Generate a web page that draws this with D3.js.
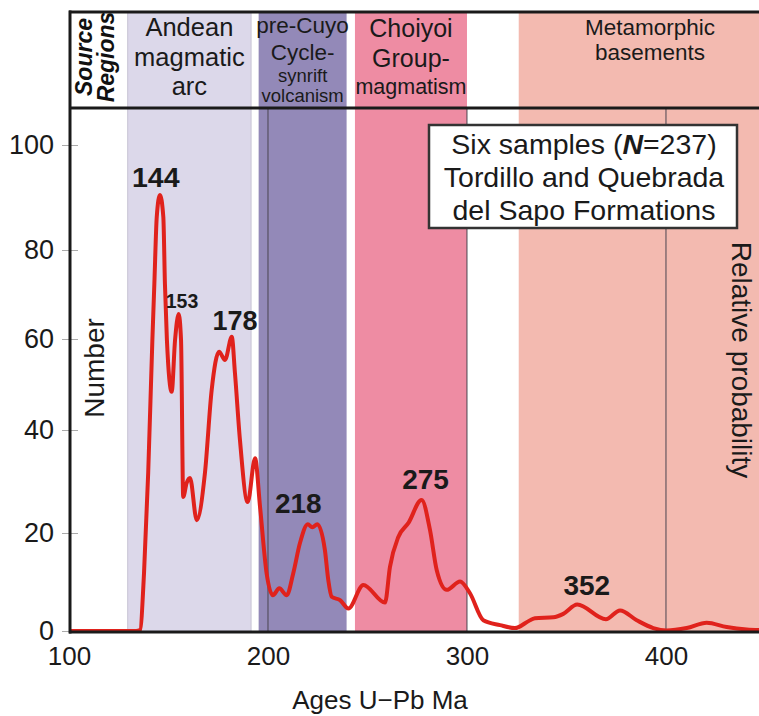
<!DOCTYPE html>
<html>
<head>
<meta charset="utf-8">
<script src="https://cdn.jsdelivr.net/npm/d3@7"></script>
<style>
  html, body { margin: 0; padding: 0; background: #fff; }
  svg { display: block; font-family: "Liberation Sans", Arial, sans-serif; }
</style>
</head>
<body>
<svg id="chart" width="759" height="716"></svg>
<script>
// ---- data ----
const ages = [100, 133.7, 135.7, 137.7, 139.8, 141.9, 142.9, 144.1, 145.7, 147.4, 148.2, 149.2,
  151.6, 153.3, 155.1, 156.3, 157.4, 159.1, 160.8, 164.2, 168.3, 171.7, 175.4, 178.4, 181.8,
  183.4, 185.9, 189.8, 193.5, 196.0, 199.3, 202.4, 205.7, 209.4, 212.7, 216.1, 220.0, 222.3,
  224.8, 228.6, 230.3, 232.0, 236.2, 240.4, 247.9, 258.8, 261.3, 265.5, 270.5, 277.2, 281.4,
  284.8, 289.8, 296.5, 301.5, 308.2, 316.6, 324.1, 331.7, 334.2, 343.4, 348.4, 355.4, 369.8,
  376.9, 385.3, 393.6, 400.4, 410.4, 420.5, 430.5, 440.6, 447];
const counts = [0, 0, 0.2, 11.8, 31.7, 59.8, 72.5, 86.3, 90.5, 86.3, 72.5, 59.8,
  48.4, 59.8, 65.6, 59.8, 27.0, 29.7, 30.7, 22.5, 31.6, 48.8, 57.2, 55.4, 60.5,
  52.5, 38.1, 26.0, 34.5, 25.1, 11.8, 7.3, 8.7, 7.3, 11.8, 18.0, 21.7, 21.1,
  21.7, 16.5, 10.4, 7.0, 6.3, 4.6, 9.4, 5.8, 13.1, 19.2, 21.9, 26.4, 20.6,
  12.4, 8.4, 10.1, 7.7, 2.2, 1.2, 0.6, 2.2, 2.6, 2.8, 3.5, 5.4, 2.4,
  4.2, 2.2, 0.6, 0.1, 0.6, 1.7, 0.8, 0.3, 0.2];

const xTicks = [100, 200, 300, 400];
const yTicks = [0, 20, 40, 60, 80, 100];
const gridAges = [200, 300, 400];

const bandNames = ["Andean", "preCuyo", "Choiyoi", "Metamorphic"];
const bandStart = [129.5, 195.3, 243.7, 326];
const bandEnd = [191.5, 239.5, 300, 447];
const bandColors = ["#dcd8ea", "#9389b8", "#ee8ca3", "#f3bab0"];
const bandLabels = [
  [["Andean", 25.5], ["magmatic", 25.5], ["arc", 25.5]],
  [["pre-Cuyo", 22.5], ["Cycle-", 22.5], ["synrift", 18.5], ["volcanism", 18.5]],
  [["Choiyoi", 25], ["Group-", 25], ["magmatism", 21.5]],
  [["Metamorphic", 22.5], ["basements", 22.5]]
];

const peakLabels = ["144", "153", "178", "218", "275", "352"];
const peakAges = [143.6, 156.8, 183.4, 215.2, 279.2, 360.2];
const peakValues = [92.0, 67.0, 62.0, 23.8, 28.6, 7.3];
const peakSizes = [28.5, 19.5, 27, 28, 28, 28];

const noteLines = ["Six samples (", "Tordillo and Quebrada", "del Sapo Formations"];

// ---- layout ----
const svg = d3.select("#chart");
const W = 759;
const headerTop = 12, headerBottom = 108, baseY = 632;

const x = d3.scaleLinear().domain([100, 447]).range([69, 759.5]);
const y = d3.scaleLinear().domain([0, 20, 40, 60, 80, 100]).range([631, 533, 430, 339, 250, 145]);

// bands
const bands = bandNames.map((n, i) => ({ n, s: bandStart[i], e: bandEnd[i], c: bandColors[i], lab: bandLabels[i] }));
svg.append("g").selectAll("rect").data(bands).join("rect")
  .attr("x", d => x(d.s)).attr("width", d => x(d.e) - x(d.s))
  .attr("y", headerTop).attr("height", baseY - headerTop)
  .attr("fill", d => d.c)
  .attr("stroke", (d, i) => i === 0 ? "#c8c4d4" : "none").attr("stroke-width", 1);

// grid lines
svg.append("g").selectAll("line").data(gridAges).join("line")
  .attr("x1", d => x(d)).attr("x2", d => x(d))
  .attr("y1", headerBottom).attr("y2", baseY)
  .attr("stroke", "#4a4450").attr("stroke-width", 1);

// header texts
const ht = svg.append("g").attr("fill", "#1a1a1a").attr("text-anchor", "middle");
const lineYs = [
  [27, 57, 86],
  [25, 52, 75, 95],
  [28, 58, 87],
  [27, 52]
];
bands.forEach((b, i) => {
  const cx = i === 3 ? 650 : (x(b.s) + x(b.e)) / 2;
  b.lab.forEach((l, j) => {
    ht.append("text").attr("x", cx).attr("y", lineYs[i][j])
      .attr("dominant-baseline", "central")
      .attr("font-size", l[1]).text(l[0]);
  });
});

// Source Regions
const sr = svg.append("g").attr("transform", "translate(0,57) rotate(-90)")
  .attr("font-size", 23).attr("font-weight", "bold").attr("font-style", "italic").attr("fill", "#111")
  .attr("text-anchor", "middle");
sr.append("text").attr("x", 0).attr("y", 92).text("Source");
sr.append("text").attr("x", 0).attr("y", 114).text("Regions");

// header frame
svg.append("line").attr("x1", 69).attr("x2", W).attr("y1", headerTop).attr("y2", headerTop)
  .attr("stroke", "#1a1a1a").attr("stroke-width", 3);
svg.append("line").attr("x1", 69).attr("x2", W).attr("y1", headerBottom).attr("y2", headerBottom)
  .attr("stroke", "#1a1a1a").attr("stroke-width", 3);

// note box
const nb = svg.append("g").attr("font-size", 28.5).attr("fill", "#1a1a1a").attr("text-anchor", "middle");
nb.append("rect").attr("x", 429).attr("y", 125).attr("width", 308).attr("height", 103)
  .attr("fill", "#fff").attr("stroke", "#333").attr("stroke-width", 2.5);
const t1 = nb.append("text").attr("x", 584).attr("y", 144).attr("dominant-baseline", "central");
t1.append("tspan").text(noteLines[0]);
t1.append("tspan").attr("font-style", "italic").attr("font-weight", "bold").text("N");
t1.append("tspan").text("=237)");
nb.append("text").attr("x", 584).attr("y", 177).attr("dominant-baseline", "central").text(noteLines[1]);
nb.append("text").attr("x", 584).attr("y", 210).attr("dominant-baseline", "central").text(noteLines[2]);

// curve
const line = d3.line().x((d, i) => x(ages[i])).y((d, i) => y(counts[i])).curve(d3.curveMonotoneX);
svg.append("path").datum(counts).attr("d", line)
  .attr("fill", "none").attr("stroke", "#e0221c").attr("stroke-width", 4)
  .attr("stroke-linejoin", "round");

// peak labels
svg.append("g").selectAll("text").data(peakLabels).join("text")
  .attr("x", (d, i) => x(peakAges[i])).attr("y", (d, i) => y(peakValues[i]))
  .attr("text-anchor", "middle").attr("font-weight", "bold")
  .attr("font-size", (d, i) => peakSizes[i]).attr("fill", "#1a1a1a").text(d => d);

// axes
const yAxis = svg.append("g").attr("transform", "translate(70,0)")
  .call(d3.axisLeft(y).tickValues(yTicks).tickSize(8).tickPadding(8).tickFormat(d3.format("d")));
yAxis.select(".domain").remove();
yAxis.selectAll(".tick line").attr("x1", 8).attr("stroke", "#aaa");
yAxis.selectAll(".tick text").attr("font-size", 27).attr("fill", "#1a1a1a")
  .attr("font-family", "Liberation Sans, Arial, sans-serif");

const xAxis = svg.append("g").attr("transform", `translate(0,${baseY})`)
  .call(d3.axisBottom(x).tickValues(xTicks).tickSize(0).tickPadding(15));
xAxis.select(".domain").remove();
xAxis.selectAll(".tick text").attr("font-size", 26).attr("fill", "#1a1a1a")
  .attr("font-family", "Liberation Sans, Arial, sans-serif");

svg.append("line").attr("x1", 69).attr("x2", W).attr("y1", baseY).attr("y2", baseY)
  .attr("stroke", "#1a1a1a").attr("stroke-width", 3);
svg.append("line").attr("x1", 70).attr("x2", 70).attr("y1", headerTop - 1.5).attr("y2", baseY + 1.5)
  .attr("stroke", "#1a1a1a").attr("stroke-width", 3);

// axis titles
svg.append("text").attr("x", 380).attr("y", 700).attr("text-anchor", "middle")
  .attr("dominant-baseline", "central").attr("font-size", 26).attr("fill", "#1a1a1a").text("Ages U\u2212Pb Ma");
svg.append("text").attr("transform", "translate(94,368) rotate(-90)").attr("text-anchor", "middle")
  .attr("dominant-baseline", "central").attr("font-size", 28).attr("fill", "#1a1a1a").text("Number");
svg.append("text").attr("transform", "translate(741,360) rotate(90)").attr("text-anchor", "middle")
  .attr("dominant-baseline", "central").attr("font-size", 28).attr("fill", "#1a1a1a").text("Relative probability");
</script>
</body>
</html>
